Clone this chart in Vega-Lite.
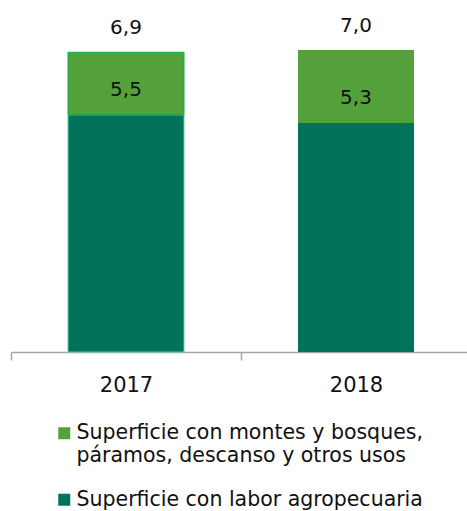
{
  "$schema": "https://vega.github.io/schema/vega-lite/v6.json",
  "width": 456,
  "height": 352,
  "autosize": {"type": "none"},
  "padding": {"left": 11, "top": 0, "right": 0, "bottom": 159},
  "background": "white",
  "config": {
    "view": {"stroke": null},
    "font": "DejaVu Sans",
    "locale": {"number": {"decimal": ",", "thousands": ".", "grouping": [3], "currency": ["", ""]}}
  },
  "data": {
    "values": [
      {"year": "2017", "series": "Superficie con labor agropecuaria", "value": 5.49},
      {"year": "2017", "series": "Superficie con montes y bosques, páramos, descanso y otros usos", "value": 1.45},
      {"year": "2018", "series": "Superficie con labor agropecuaria", "value": 5.30},
      {"year": "2018", "series": "Superficie con montes y bosques, páramos, descanso y otros usos", "value": 1.69}
    ]
  },
  "encoding": {
    "x": {
      "field": "year",
      "type": "nominal",
      "scale": {"range": [0, 460], "paddingInner": 0.4957, "paddingOuter": 0.2478},
      "axis": {
        "title": null,
        "labelAngle": 0,
        "labelFont": "DejaVu Sans",
        "labelFontSize": 21,
        "labelColor": "#111111",
        "labelPadding": 14,
        "bandPosition": 0,
        "tickOffset": -57,
        "labelOffset": 57,
        "tickSize": 8,
        "tickColor": "#a6a6a6",
        "tickWidth": 1.5,
        "domainColor": "#a6a6a6",
        "domainWidth": 1.5
      }
    }
  },
  "layer": [
    {
      "mark": {"type": "bar"},
      "encoding": {
        "y": {"field": "value", "type": "quantitative", "stack": "zero", "scale": {"domain": [0, 8.15], "nice": false}, "axis": null},
        "order": {"field": "series", "sort": "ascending"},
        "color": {
          "field": "series",
          "type": "nominal",
          "scale": {
            "domain": ["Superficie con montes y bosques, páramos, descanso y otros usos", "Superficie con labor agropecuaria"],
            "range": ["#54a03b", "#02725a"]
          },
          "legend": {
            "title": null,
            "orient": "none",
            "legendX": 43,
            "legendY": 423,
            "direction": "vertical",
            "symbolType": "square",
            "symbolSize": 144,
            "symbolStrokeWidth": 0,
            "labelFont": "DejaVu Sans",
            "labelFontSize": 20.5,
            "labelLineHeight": 25,
            "labelColor": "#111111",
            "labelLimit": 0,
            "labelOffset": 2,
            "labelBaseline": "middle",
            "rowPadding": 22.5,
            "padding": 0,
            "labelExpr": "datum.label == 'Superficie con montes y bosques, páramos, descanso y otros usos' ? ['Superficie con montes y bosques,', 'páramos, descanso y otros usos'] : datum.label",
            "encode": {
              "labels": {"update": {"dy": {"signal": "length(datum.label) > 40 ? 12.5 : 0"}}}
            }
          }
        },
        "stroke": {
          "condition": [
            {"test": "datum.year == '2017' && datum.series == 'Superficie con montes y bosques, páramos, descanso y otros usos'", "value": "#00b050"},
            {"test": "datum.year == '2017'", "value": "#5ccf9a"}
          ],
          "value": null
        },
        "strokeWidth": {"value": 1}
      }
    },
    {
      "transform": [{"filter": "datum.series == 'Superficie con labor agropecuaria'"}],
      "mark": {"type": "text", "dy": -25, "baseline": "middle", "fontSize": 20, "font": "DejaVu Sans", "color": "#111111"},
      "encoding": {
        "y": {"field": "value", "type": "quantitative"},
        "text": {"field": "value", "type": "quantitative", "format": ".1f"}
      }
    },
    {
      "mark": {"type": "text", "dy": -24, "baseline": "middle", "fontSize": 20, "font": "DejaVu Sans", "color": "#111111"},
      "encoding": {
        "y": {"aggregate": "sum", "field": "value", "type": "quantitative"},
        "text": {"aggregate": "sum", "field": "value", "type": "quantitative", "format": ".1f"}
      }
    }
  ]
}
